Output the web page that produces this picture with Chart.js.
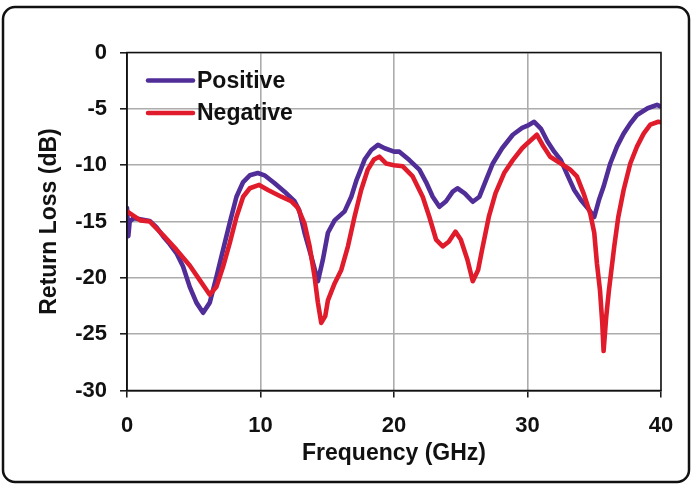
<!DOCTYPE html>
<html>
<head>
<meta charset="utf-8">
<title>Return Loss</title>
<script src="https://cdn.jsdelivr.net/npm/chart.js@4.4.0/dist/chart.umd.min.js"></script>
<style>
  html, body { margin: 0; padding: 0; background: #fff; }
  canvas { display: block; }
</style>
</head>
<body>
<canvas id="lossChart" width="692" height="485"></canvas>
<script>
// values (frequency in GHz, return loss in dB)
const posFreq = [0, 0.1, 0.2, 0.5, 1.0, 1.7, 2.2, 2.7, 3.2, 3.7, 4.2, 4.7, 5.2, 5.7, 6.2, 6.7, 7.2, 7.7, 8.2, 8.7,
    9.2, 9.8, 10.3, 11.06, 11.8, 12.55, 12.9, 13.3, 13.8, 14.3, 14.67, 15.05, 15.55, 16.3, 16.8, 17.2, 17.8, 18.3, 18.8, 19.3,
    20.0, 20.4, 21.15, 21.9, 22.4, 22.9, 23.4, 23.9, 24.4, 24.75, 25.3, 25.9, 26.4, 26.9, 27.4, 28.1, 28.9, 29.6, 30.0, 30.5,
    31.0, 31.5, 32.0, 32.5, 33.0, 33.5, 34.0, 34.5, 35.0, 35.35, 35.7, 36.2, 36.7, 37.2, 37.7, 38.2, 39.0, 39.7, 40.0];
const posLoss = [-13.8, -16.3, -15.0, -14.7, -14.8, -14.95, -15.5, -16.3, -17.0, -17.8, -19.0, -20.8, -22.2, -23.1, -22.2, -19.9, -17.5, -15.1, -12.8, -11.5,
    -10.9, -10.7, -10.9, -11.6, -12.35, -13.2, -14.0, -16.0, -18.1, -20.3, -18.4, -16.0, -14.9, -14.1, -12.8, -11.3, -9.5, -8.65, -8.2, -8.5,
    -8.8, -8.8, -9.55, -10.4, -11.5, -12.8, -13.7, -13.2, -12.35, -12.05, -12.5, -13.25, -12.8, -11.3, -9.85, -8.5, -7.3, -6.7, -6.5, -6.15,
    -6.75, -7.9, -8.8, -9.55, -10.9, -12.2, -13.1, -13.8, -14.6, -13.1, -11.9, -9.85, -8.35, -7.2, -6.3, -5.55, -4.95, -4.65, -4.8];

const negFreq = [0, 0.5, 1.0, 1.7, 2.7, 3.7, 4.7, 5.45, 6.2, 6.7, 7.2, 7.7, 8.2, 8.7, 9.2, 9.9, 10.56, 11.56, 12.3, 12.8,
    13.3, 13.68, 14.05, 14.3, 14.55, 14.85, 15.05, 15.55, 16.05, 16.55, 17.04, 17.54, 18.03, 18.5, 18.9, 19.4, 20.0, 20.66, 21.4, 22.15,
    22.65, 23.15, 23.65, 24.1, 24.6, 25.0, 25.5, 25.9, 26.3, 26.6, 27.1, 27.6, 28.25, 28.9, 29.6, 30.0, 30.7, 31.2, 31.7, 32.5,
    33.2, 33.7, 34.2, 34.7, 35.0, 35.2, 35.43, 35.6, 35.7, 35.9, 36.1, 36.5, 36.8, 37.2, 37.7, 38.2, 38.7, 39.2, 39.8, 40.0];
const negLoss = [-14.1, -14.5, -14.9, -15.0, -16.2, -17.5, -18.9, -20.2, -21.5, -20.8, -19.0, -16.9, -14.6, -12.8, -12.05, -11.75, -12.2, -12.8, -13.2, -13.8,
    -15.2, -17.2, -19.9, -22.2, -24.0, -23.4, -22.0, -20.5, -19.3, -17.2, -14.6, -12.2, -10.4, -9.5, -9.25, -9.85, -10.0, -10.1, -11.0, -12.8,
    -14.6, -16.6, -17.2, -16.8, -15.9, -16.6, -18.4, -20.3, -19.3, -17.5, -14.6, -12.5, -10.7, -9.55, -8.5, -8.05, -7.3, -8.35, -9.25, -9.85,
    -10.4, -11.0, -12.5, -14.3, -16.0, -18.7, -21.1, -24.0, -26.5, -23.4, -21.1, -17.2, -14.6, -12.2, -9.85, -8.35, -7.2, -6.4, -6.15, -6.2];

const seriesNames = ["Positive", "Negative"];
const seriesColors = ["#512d98", "#e01b2b"];

const xTicks = [0, 10, 20, 30, 40];
const yTicks = [0, -5, -10, -15, -20, -25, -30];

const FONT = "'Liberation Sans', Arial, sans-serif";

function toPoints(xs, ys) {
    return xs.map((x, i) => ({x: x, y: ys[i]}));
}

// black frame round the plot, the rounded outer box and the legend inside the plot
const framePlugin = {
    id: "frame",
    beforeDraw(chart) {
        const ctx = chart.ctx;
        ctx.save();
        ctx.fillStyle = "#fff";
        ctx.fillRect(0, 0, chart.width, chart.height);
        ctx.restore();
    },
    afterDraw(chart) {
        const {ctx, chartArea: a} = chart;
        ctx.save();
        ctx.strokeStyle = "#111";
        ctx.lineWidth = 1.5;
        ctx.strokeRect(a.left, a.top, a.right - a.left, a.bottom - a.top);

        ctx.lineWidth = 2.5;
        ctx.beginPath();
        ctx.roundRect(3, 7, 686, 475, 12);
        ctx.stroke();

        chart.data.datasets.forEach((ds, i) => {
            const y = a.top + 28 + i * 32.5;
            ctx.strokeStyle = ds.borderColor;
            ctx.lineWidth = 4.5;
            ctx.lineCap = "round";
            ctx.beginPath();
            ctx.moveTo(a.left + 21, y);
            ctx.lineTo(a.left + 66, y);
            ctx.stroke();
            ctx.fillStyle = "#111";
            ctx.font = "bold 23px " + FONT;
            ctx.textBaseline = "middle";
            ctx.fillText(ds.label, a.left + 70, y + 1);
        });
        ctx.restore();
    }
};

const gridStyle = {
    color: "#acacac",
    lineWidth: 1.6,
    tickColor: "#111",
    tickLength: 7,
    tickWidth: 1.5
};

new Chart(document.getElementById("lossChart").getContext("2d"), {
    type: "line",
    data: {
        datasets: [
            {label: seriesNames[0], data: toPoints(posFreq, posLoss), borderColor: seriesColors[0], order: 1},
            {label: seriesNames[1], data: toPoints(negFreq, negLoss), borderColor: seriesColors[1], order: 0}
        ]
    },
    options: {
        responsive: false,
        animation: false,
        layout: {
            padding: {left: 0, right: 31, top: 52.5, bottom: 0}
        },
        elements: {
            point: {radius: 0},
            line: {borderWidth: 4.6, tension: 0, borderJoinStyle: "round", borderCapStyle: "round"}
        },
        scales: {
            x: {
                type: "linear",
                min: 0,
                max: 40,
                afterBuildTicks: (scale) => { scale.ticks = xTicks.map(v => ({value: v})); },
                afterFit: (scale) => { scale.height = 94.5; },
                grid: gridStyle,
                border: {color: "#111", width: 1.5},
                ticks: {
                    color: "#111",
                    padding: 15,
                    font: {family: FONT, size: 22, weight: "bold"}
                },
                title: {
                    display: true,
                    text: "Frequency (GHz)",
                    color: "#111",
                    padding: {top: 0, bottom: 18},
                    font: {family: FONT, size: 23, weight: "bold"}
                }
            },
            y: {
                min: -30,
                max: 0,
                afterBuildTicks: (scale) => { scale.ticks = yTicks.map(v => ({value: v})); },
                afterFit: (scale) => { scale.width = 127; },
                grid: gridStyle,
                border: {color: "#111", width: 1.5},
                ticks: {
                    color: "#111",
                    padding: 13,
                    font: {family: FONT, size: 22, weight: "bold"}
                },
                title: {
                    display: true,
                    text: "Return Loss (dB)",
                    color: "#111",
                    padding: {top: 36, bottom: 0},
                    font: {family: FONT, size: 23, weight: "bold"}
                }
            }
        },
        plugins: {
            legend: {display: false},
            tooltip: {enabled: false}
        }
    },
    plugins: [framePlugin]
});
</script>
</body>
</html>
